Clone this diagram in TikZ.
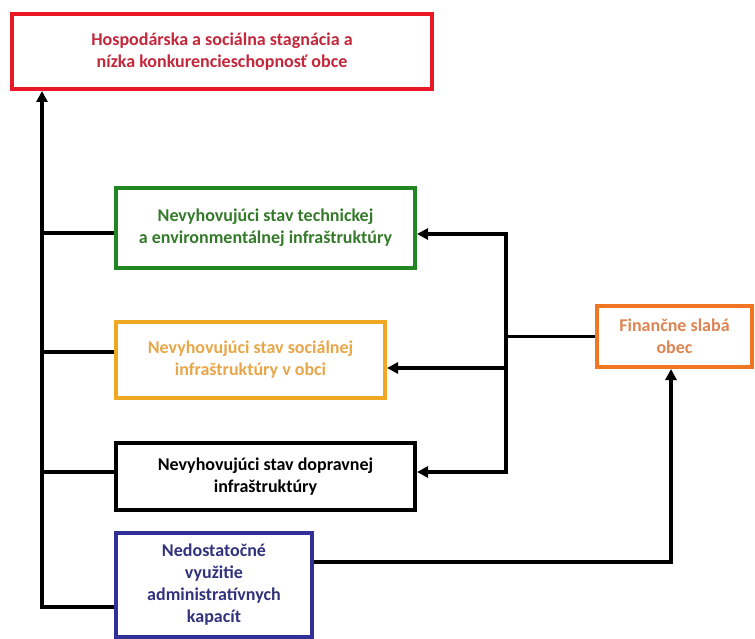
\documentclass[tikz,border=0pt]{standalone}
\usepackage{fontspec}
\setmainfont{Carlito}
\usetikzlibrary{arrows.meta}

\definecolor{boxred}{RGB}{232,24,36}
\definecolor{txtred}{RGB}{196,38,58}
\definecolor{boxgreen}{RGB}{34,134,34}
\definecolor{txtgreen}{RGB}{52,122,42}
\definecolor{boxyellow}{RGB}{240,168,36}
\definecolor{txtyellow}{RGB}{232,166,72}
\definecolor{boxorange}{RGB}{240,118,36}
\definecolor{txtorange}{RGB}{222,132,82}
\definecolor{boxblue}{RGB}{48,48,150}
\definecolor{txtblue}{RGB}{50,50,124}

\begin{document}
\begin{tikzpicture}[x=1pt,y=-1pt,
box/.style={draw,line width=4pt,align=center,inner sep=0pt,
font=\fontsize{18}{22}\selectfont\bfseries},
line/.style={line width=3.5pt},
arr/.style={line width=3.5pt,-{Triangle[length=11pt,width=11pt]}}]
\useasboundingbox (0,0) rectangle (755,639);
\node[box,boxred,text=txtred,minimum width=420pt,minimum height=75pt] (stag) at (222,51.5)
{Hospodárska a sociálna stagnácia a\\nízka konkurencieschopnosť obce};
\node[box,boxgreen,text=txtgreen,minimum width=299pt,minimum height=80pt] (tech) at (265.5,228)
{Nevyhovujúci stav technickej\\a environmentálnej infraštruktúry};
\node[box,boxyellow,text=txtyellow,minimum width=269pt,minimum height=76pt] (soc) at (250.5,360)
{Nevyhovujúci stav sociálnej\\infraštruktúry v obci};
\node[box,black,text=black,minimum width=299pt,minimum height=67pt] (dopr) at (265.5,476.5)
{Nevyhovujúci stav dopravnej\\infraštruktúry};
\node[box,boxblue,text=txtblue,minimum width=196pt,minimum height=104pt] (adm) at (214,585)
{Nedostatočné\\využitie\\administratívnych\\kapacít};
\node[box,boxorange,text=txtorange,minimum width=155pt,minimum height=61pt] (fin) at (674.5,336.5)
{Finančne slabá\\obec};
\coordinate (trunk) at (42,0);
\coordinate (bus) at (506,0);
% left trunk
\draw[arr] ([yshift=-22pt]adm.west) -| (trunk |- stag.south);
\draw[line] ([yshift=-5pt]tech.west) -- ([yshift=-5pt]tech.west -| trunk);
\draw[line] ([yshift=8pt]soc.west) -- ([yshift=8pt]soc.west -| trunk);
\draw[line] ([yshift=4.5pt]dopr.west) -- ([yshift=4.5pt]dopr.west -| trunk);
% right bus
\draw[arr] (fin.west) -- (fin.west -| bus) |- ([yshift=-6pt]tech.east);
\draw[arr] (fin.west -| bus) |- ([yshift=4.5pt]dopr.east);
\draw[arr] ([yshift=-8pt]soc.east -| bus) -- ([yshift=-8pt]soc.east);
\draw[arr] ([yshift=23pt]adm.east) -| ([xshift=-3.5pt]fin.south);
\end{tikzpicture}
\end{document}
